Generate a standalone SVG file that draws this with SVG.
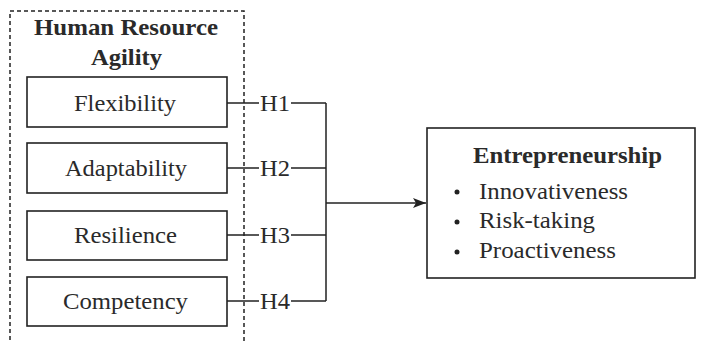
<svg xmlns="http://www.w3.org/2000/svg" width="701" height="342" viewBox="0 0 701 342">
<defs>
<style>
.box{fill:#fff;stroke:#222;stroke-width:1.6}
.t{font-family:"Liberation Serif","Times New Roman",serif;font-size:22.5px;fill:#2a2a2a}
.b{font-weight:bold}
.ln{fill:none;stroke:#222;stroke-width:1.5}
</style>
<marker id="arr" markerWidth="14" markerHeight="12" refX="13" refY="6" orient="auto" markerUnits="userSpaceOnUse">
<path d="M0,1 L13,6 L0,11 L3,6 Z" fill="#222"/>
</marker>
</defs>
<rect width="701" height="342" fill="#fff"/>
<g id="hra-group">
<rect x="10" y="11" width="234" height="340" fill="none" stroke="#222" stroke-width="1.5" stroke-dasharray="4,3"/>
<text class="t b" x="34" y="35" textLength="184" lengthAdjust="spacingAndGlyphs">Human Resource</text>
<text class="t b" x="91" y="65" textLength="71" lengthAdjust="spacingAndGlyphs">Agility</text>
</g>
<g id="flexibility">
<rect class="box" x="27" y="77" width="200" height="50"/>
<text class="t" x="74" y="111" textLength="102" lengthAdjust="spacingAndGlyphs">Flexibility</text>
</g>
<g id="adaptability">
<rect class="box" x="27" y="143" width="200" height="50"/>
<text class="t" x="65" y="176" textLength="122" lengthAdjust="spacingAndGlyphs">Adaptability</text>
</g>
<g id="resilience">
<rect class="box" x="27" y="211" width="200" height="49"/>
<text class="t" x="74" y="243" textLength="103" lengthAdjust="spacingAndGlyphs">Resilience</text>
</g>
<g id="competency">
<rect class="box" x="27" y="277" width="200" height="49"/>
<text class="t" x="63" y="309" textLength="125" lengthAdjust="spacingAndGlyphs">Competency</text>
</g>
<g id="entrepreneurship">
<rect class="box" x="427" y="128" width="268" height="150"/>
<text class="t b" x="473" y="163" textLength="189" lengthAdjust="spacingAndGlyphs">Entrepreneurship</text>
<circle cx="457" cy="192" r="2.5" fill="#222"/>
<circle cx="457" cy="222" r="2.5" fill="#222"/>
<circle cx="457" cy="252" r="2.5" fill="#222"/>
<text class="t" x="479" y="199" textLength="149" lengthAdjust="spacingAndGlyphs">Innovativeness</text>
<text class="t" x="479" y="228" textLength="116" lengthAdjust="spacingAndGlyphs">Risk-taking</text>
<text class="t" x="479" y="258" textLength="137" lengthAdjust="spacingAndGlyphs">Proactiveness</text>
</g>
<g id="connectors">
<path class="ln" d="M227,103 H259 M291,103 H326 M227,168 H259 M291,168 H326 M227,235 H259 M291,235 H326 M227,301 H259 M291,301 H326 M326,103 V301"/>
<path class="ln" d="M326,203 H426" marker-end="url(#arr)"/>
<text class="t" x="260" y="111" textLength="30" lengthAdjust="spacingAndGlyphs">H1</text>
<text class="t" x="260" y="176" textLength="30" lengthAdjust="spacingAndGlyphs">H2</text>
<text class="t" x="260" y="243" textLength="30" lengthAdjust="spacingAndGlyphs">H3</text>
<text class="t" x="260" y="309" textLength="30" lengthAdjust="spacingAndGlyphs">H4</text>
</g>
</svg>
